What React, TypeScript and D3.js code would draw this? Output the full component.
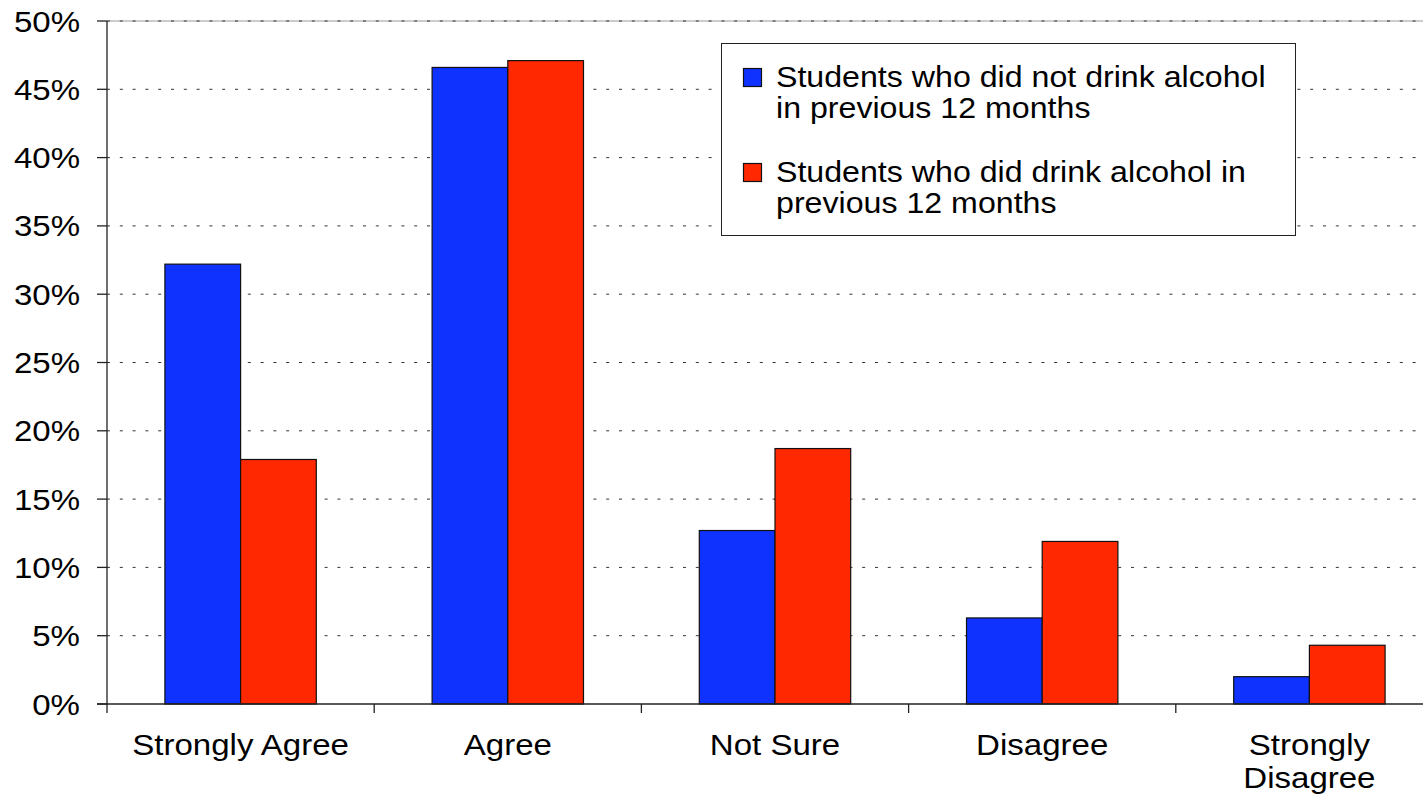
import React from "react";
import * as d3 from "d3";

const categories = ["Strongly Agree", "Agree", "Not Sure", "Disagree", "Strongly Disagree"];
const seriesNames = [
  "Students who did not drink alcohol in previous 12 months",
  "Students who did drink alcohol in previous 12 months",
];
const nonDrinkers = [32.2, 46.6, 12.7, 6.3, 2.0];
const drinkers = [17.9, 47.1, 18.7, 11.9, 4.3];
const yTicks = [0, 5, 10, 15, 20, 25, 30, 35, 40, 45, 50];
const xLabelLines = [["Strongly Agree"], ["Agree"], ["Not Sure"], ["Disagree"], ["Strongly", "Disagree"]];
const legendLines = [
  ["Students who did not drink alcohol", "in previous 12 months"],
  ["Students who did drink alcohol in", "previous 12 months"],
];
const colors = ["#0F32FF", "#FF2800"];

const W = 1423;
const H = 796;
const FONT = "'Liberation Sans', Arial, sans-serif";
const FS = 29.5;
const SX = 1.12;

function T({ x, y, anchor = "start", fs = FS, sx = SX, children }: any) {
  return (
    <text
      transform={`translate(${x},${y}) scale(${sx},1)`}
      textAnchor={anchor}
      fontFamily={FONT}
      fontSize={fs}
      fill="#000"
    >
      {children}
    </text>
  );
}

export default function App() {
  const left = 107;
  const top = 21;
  const bottom = 704;
  const step = 267.2;
  const x = d3.scaleBand<string>().domain(categories).range([left, left + step * categories.length]).padding(0);
  const xs = d3.scaleBand<string>().domain(["0", "1"]).range([0, x.bandwidth()]).paddingInner(0).paddingOuter(0.765);
  const y = d3.scaleLinear().domain([0, 50]).range([bottom, top]);
  const series = [nonDrinkers, drinkers];
  const boundaries = categories.map((c) => x(c) as number).concat([left + step * categories.length]);

  return (
    <svg width={W} height={H} style={{ position: "absolute", left: 0, top: 0, background: "#fff" }}>
      <rect x={0} y={0} width={W} height={H} fill="#fff" />
      {/* plot area top border */}
      <line x1={left} x2={W} y1={y(50)} y2={y(50)} stroke="#999" strokeWidth={1} />
      {/* gridlines */}
      {yTicks.filter((t) => t > 0).map((t) => (
        <line
          key={"g" + t}
          x1={left}
          x2={W}
          y1={y(t)}
          y2={y(t)}
          stroke="#333"
          strokeWidth={1}
          strokeDasharray="3 9.8"
        />
      ))}
      {/* bars */}
      {categories.map((c, i) =>
        series.map((s, k) => (
          <rect
            key={c + k}
            x={(x(c) as number) + (xs(String(k)) as number)}
            y={y(s[i])}
            width={xs.bandwidth()}
            height={bottom - y(s[i])}
            fill={colors[k]}
            stroke="#111"
            strokeWidth={1.2}
          />
        ))
      )}
      {/* y axis */}
      <line x1={left} x2={left} y1={top} y2={bottom} stroke="#222" strokeWidth={1.3} />
      {yTicks.map((t) => (
        <g key={"y" + t}>
          <line x1={left - 10} x2={left} y1={y(t)} y2={y(t)} stroke="#222" strokeWidth={1.3} />
          <T x={80} y={y(t) + 10.5} anchor="end">{t + "%"}</T>
        </g>
      ))}
      {/* x axis */}
      <line x1={left - 10} x2={W} y1={bottom} y2={bottom} stroke="#222" strokeWidth={1.3} />
      {boundaries.map((b, i) => (
        <line key={"xt" + i} x1={b} x2={b} y1={bottom} y2={bottom + 9} stroke="#222" strokeWidth={1.3} />
      ))}
      {categories.map((c, i) => (
        <g key={"xl" + c}>
          {xLabelLines[i].map((ln, j) => (
            <T key={j} x={(x(c) as number) + x.bandwidth() / 2} y={755 + j * 33} anchor="middle">
              {ln}
            </T>
          ))}
        </g>
      ))}
      {/* legend */}
      <rect x={721.5} y={43.5} width={574} height={192} fill="#fff" stroke="#222" strokeWidth={1} />
      {legendLines.map((lines, k) => (
        <g key={"lg" + k}>
          <rect x={743.5} y={68.5 + k * 95} width={18} height={18} fill={colors[k]} stroke="#111" strokeWidth={1.2} />
          {lines.map((ln, j) => (
            <T key={j} x={776} y={87 + k * 95 + j * 31} sx={1.09}>
              {ln}
            </T>
          ))}
        </g>
      ))}
    </svg>
  );
}
